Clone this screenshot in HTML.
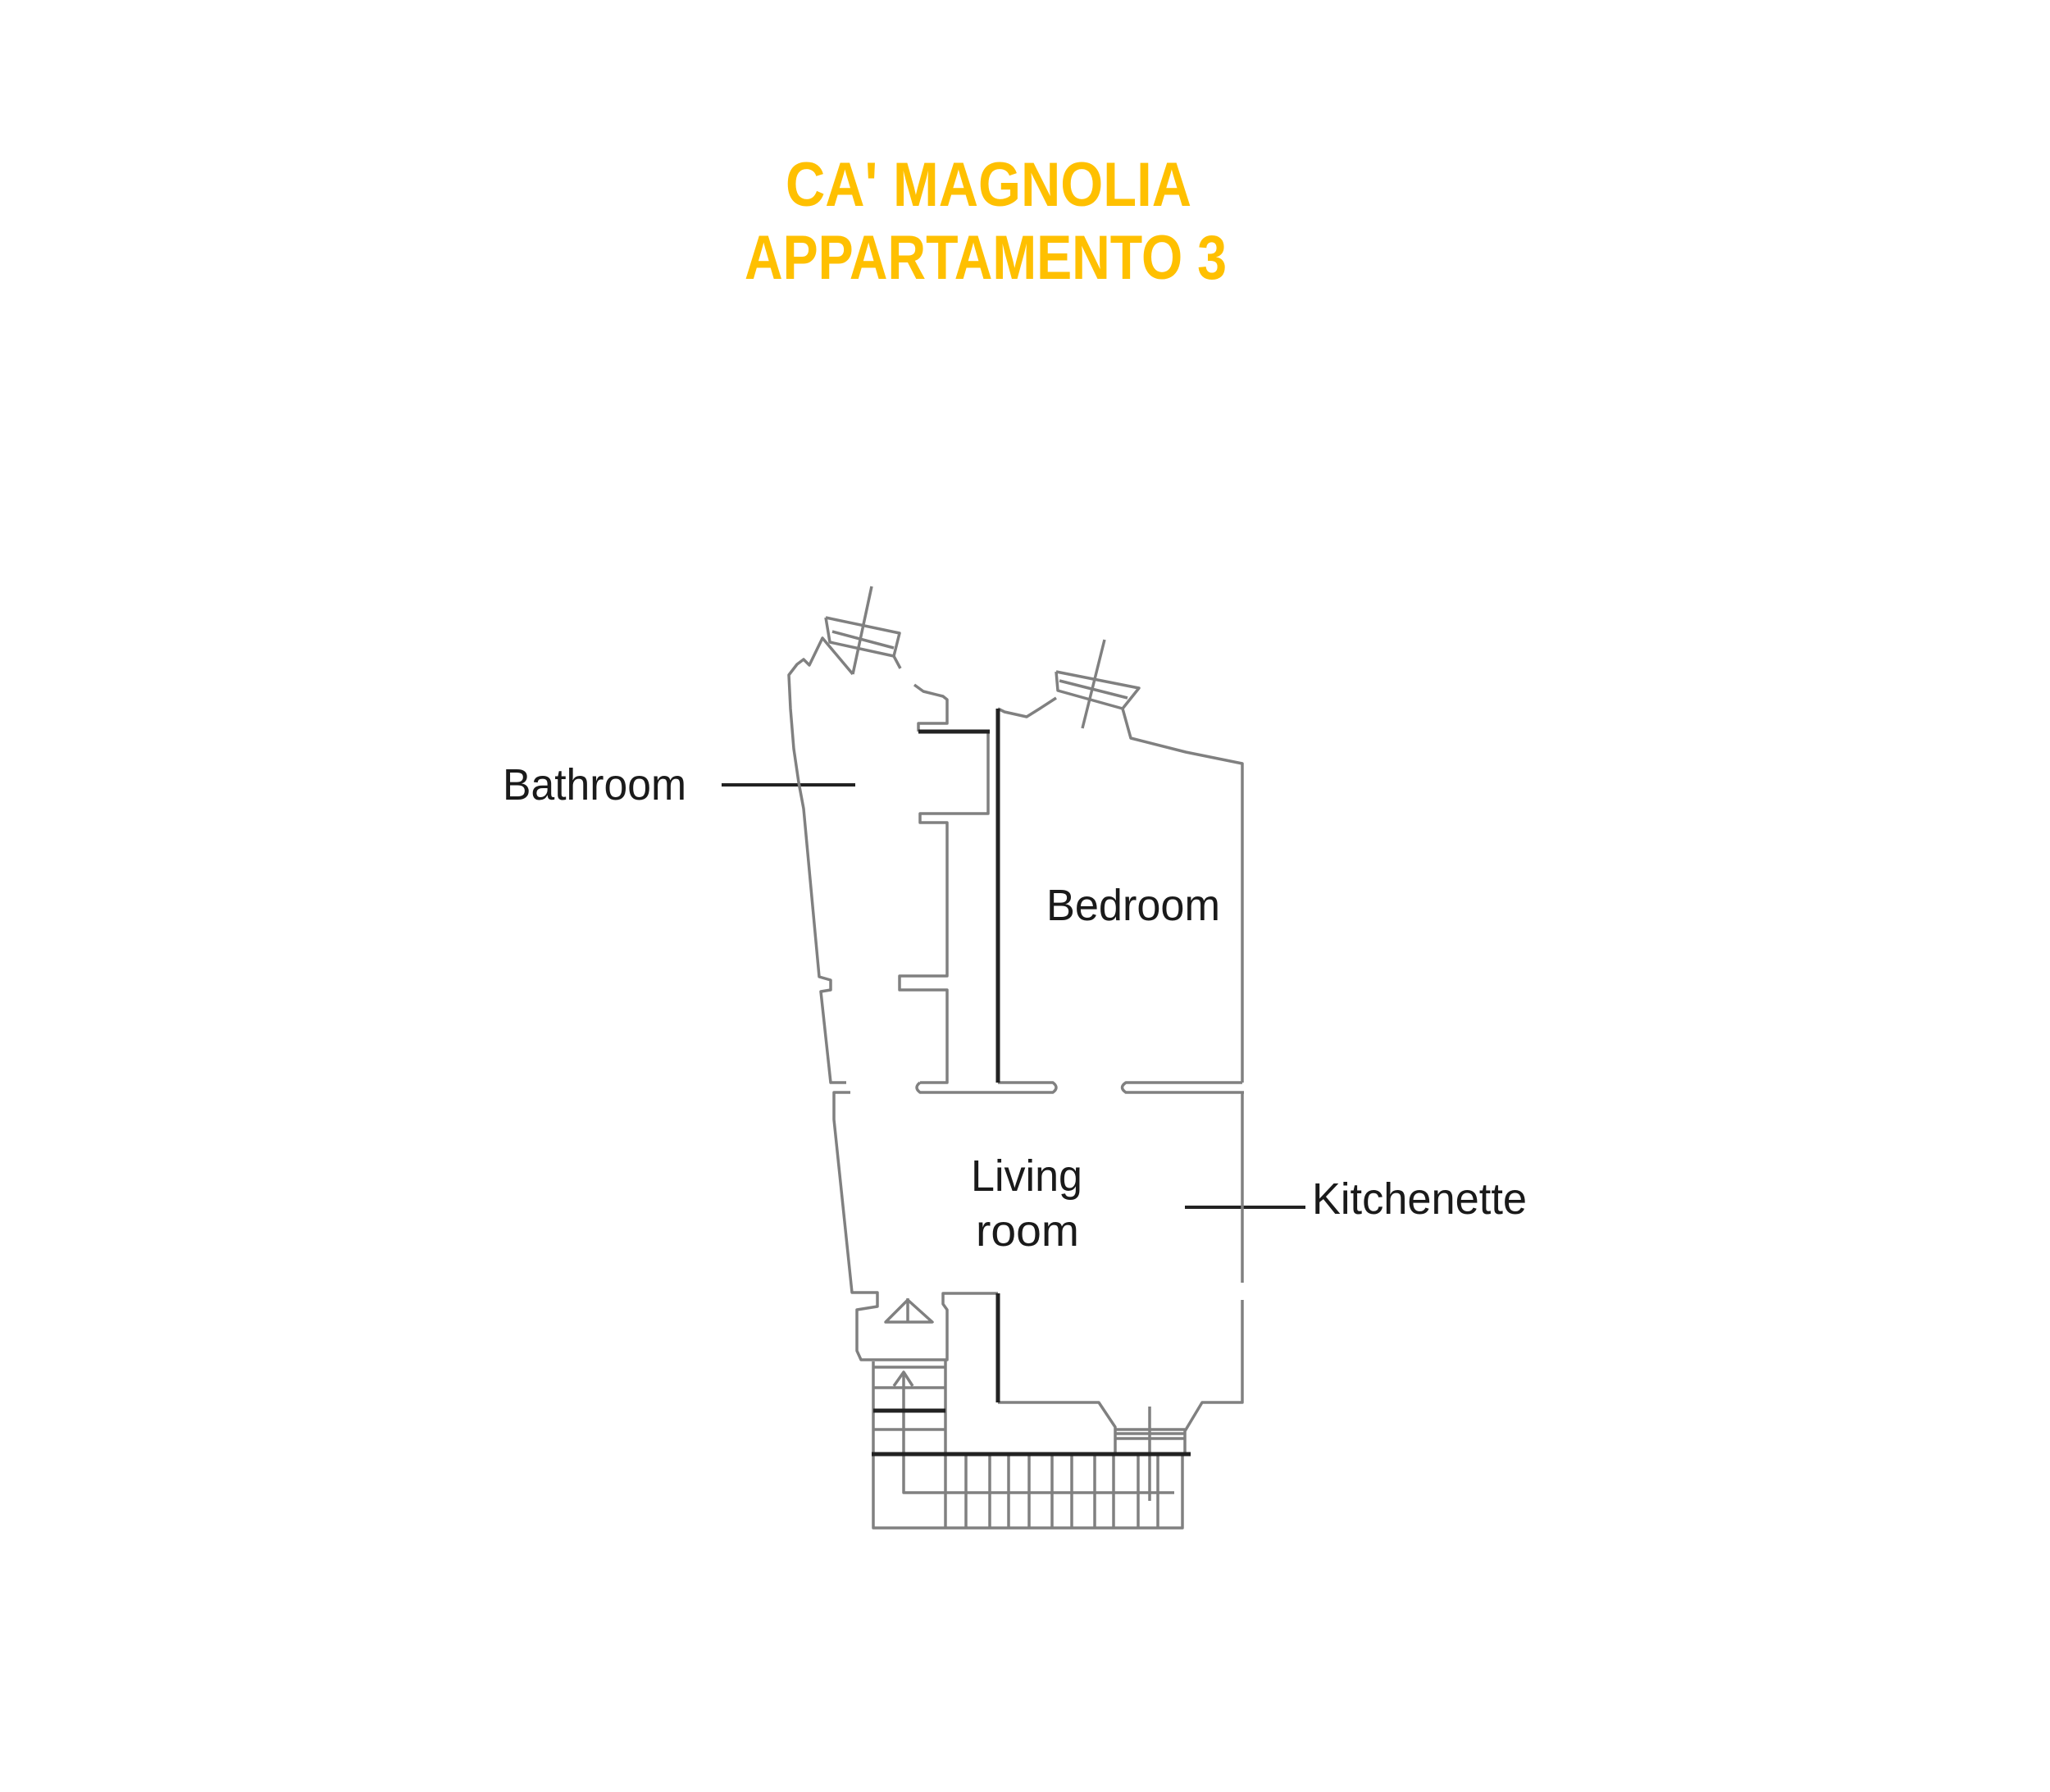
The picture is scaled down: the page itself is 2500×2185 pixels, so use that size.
<!DOCTYPE html>
<html><head><meta charset="utf-8"><style>
html,body{margin:0;padding:0;background:#fff}
svg{display:block}
</style></head><body>
<svg width="2500" height="2185" viewBox="0 0 2500 2185" xmlns="http://www.w3.org/2000/svg">
<rect width="2500" height="2185" fill="#fff"/>
<g font-family="Liberation Sans, sans-serif" fill="#FFC000" font-size="76" font-weight="bold">
<text x="958" y="251" textLength="495" lengthAdjust="spacingAndGlyphs">CA' MAGNOLIA</text>
<text x="908" y="340" textLength="588" lengthAdjust="spacingAndGlyphs">APPARTAMENTO 3</text>
</g>
<g font-family="Liberation Sans, sans-serif" fill="#1a1a1a" font-size="54">
<text x="613" y="975" textLength="224" lengthAdjust="spacingAndGlyphs">Bathroom</text>
<text x="1276" y="1122" textLength="212" lengthAdjust="spacingAndGlyphs">Bedroom</text>
<text x="1184" y="1452" textLength="136" lengthAdjust="spacingAndGlyphs">Living</text>
<text x="1190" y="1519" textLength="126" lengthAdjust="spacingAndGlyphs">room</text>
<text x="1600" y="1480" textLength="262" lengthAdjust="spacingAndGlyphs">Kitchenette</text>
</g>
<g fill="none" stroke="#222" stroke-width="4">
<line x1="880" y1="957" x2="1043" y2="957"/>
<line x1="1445" y1="1472" x2="1592" y2="1472"/>
</g>
<g fill="none" stroke="#808080" stroke-width="3.5" stroke-linejoin="round">
<polyline points="1040,822 1003,778 987,811 980,804 972,810 962,823 964,864 968,913 974,954 980,986 999,1191 1013,1195 1013,1207 1001,1209 1013,1320 1032,1320"/>
<polyline points="1037,1332 1017,1332 1017,1365 1039,1576 1070,1576 1070,1593 1045,1597 1045,1647 1050,1658 1155,1658 1155,1597 1150,1590 1150,1577 1217,1577"/>
<polyline points="1007,753 1097,772 1090,800 1012,783 1007,753"/>
<polyline points="1015,770 1090,790"/>
<line x1="1063" y1="715" x2="1040" y2="822"/>
<line x1="1090" y1="800" x2="1098" y2="815"/>
<polyline points="1115,835 1126,843 1150,849 1155,853 1155,882 1120,882 1120,892"/>
<polyline points="1205,892 1205,992 1122,992 1122,1003 1155,1003 1155,1190 1097,1190 1097,1207 1155,1207 1155,1320 1122,1320"/>
<path d="M1122,1320 Q1114,1326 1122,1332 L1284,1332 Q1292,1326 1284,1320 L1217,1320"/>
<polyline points="1217,864 1225,868 1252,874 1268,864 1288,851"/>
<polyline points="1288,819 1389,839 1369,864 1290,842 1288,819"/>
<polyline points="1292,830 1375,851"/>
<line x1="1347" y1="780" x2="1320" y2="888"/>
<polyline points="1369,864 1379,900 1446,917 1515,931 1515,1320"/>
<path d="M1515,1320 L1373,1320 Q1364,1326 1373,1332 L1517,1332"/>
<line x1="1515" y1="1332" x2="1515" y2="1564"/>
<polyline points="1515,1585 1515,1710 1466,1710 1445,1745 1445,1773"/>
<polyline points="1217,1710 1340,1710 1360,1740 1360,1773"/>
<line x1="1360" y1="1743" x2="1445" y2="1743"/>
<line x1="1360" y1="1748" x2="1445" y2="1748"/>
<line x1="1360" y1="1754" x2="1445" y2="1754"/>
<line x1="1402" y1="1715" x2="1402" y2="1830"/>
<polyline points="1065,1660 1065,1863 1442,1863 1442,1773"/>
<line x1="1153" y1="1658" x2="1153" y2="1863"/>
<line x1="1065" y1="1667" x2="1153" y2="1667"/>
<line x1="1065" y1="1692" x2="1153" y2="1692"/>
<line x1="1065" y1="1743" x2="1153" y2="1743"/>
<g>
<line x1="1178" y1="1773" x2="1178" y2="1863"/>
<line x1="1207" y1="1773" x2="1207" y2="1863"/>
<line x1="1230" y1="1773" x2="1230" y2="1863"/>
<line x1="1255" y1="1773" x2="1255" y2="1863"/>
<line x1="1283" y1="1773" x2="1283" y2="1863"/>
<line x1="1307" y1="1773" x2="1307" y2="1863"/>
<line x1="1335" y1="1773" x2="1335" y2="1863"/>
<line x1="1358" y1="1773" x2="1358" y2="1863"/>
<line x1="1388" y1="1773" x2="1388" y2="1863"/>
<line x1="1412" y1="1773" x2="1412" y2="1863"/>
</g>
<polyline points="1102,1673 1102,1820 1432,1820"/>
<polyline points="1090,1690 1102,1673 1113,1690"/>
<polygon points="1080,1612 1107,1585 1137,1612"/>
<line x1="1107" y1="1583" x2="1107" y2="1612"/>
</g>
<g fill="none" stroke="#222" stroke-width="5">
<line x1="1217" y1="864" x2="1217" y2="1320"/>
<line x1="1120" y1="892" x2="1207" y2="892"/>
<line x1="1217" y1="1577" x2="1217" y2="1710"/>
<line x1="1063" y1="1773" x2="1452" y2="1773"/>
<line x1="1065" y1="1720" x2="1153" y2="1720"/>
</g>
</svg>
</body></html>
